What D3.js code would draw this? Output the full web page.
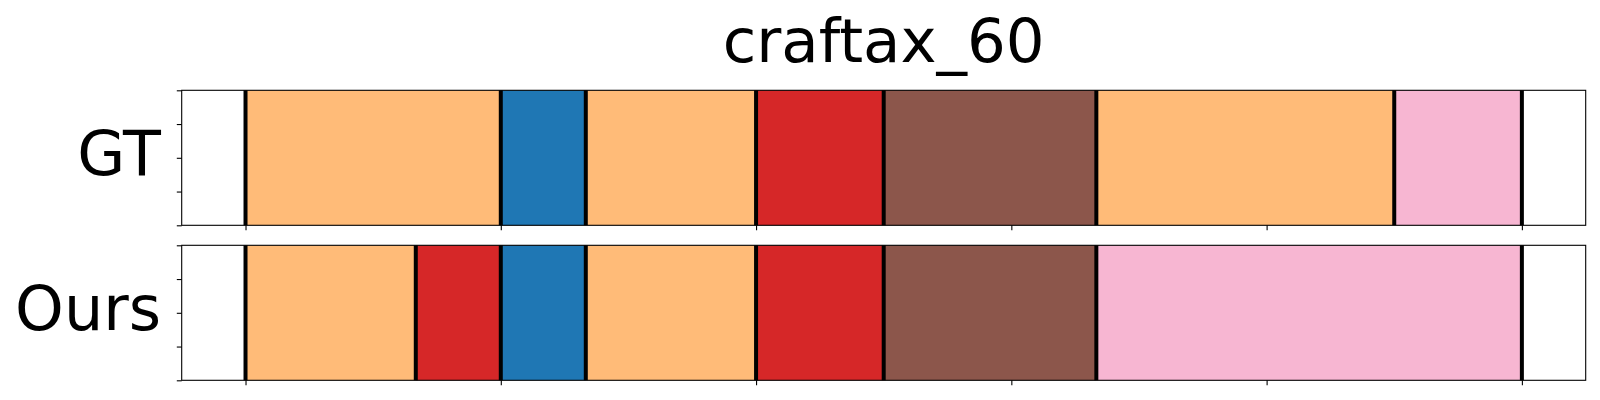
<!DOCTYPE html>
<html>
<head>
<meta charset="utf-8">
<script src="https://cdn.jsdelivr.net/npm/d3@7/dist/d3.min.js"></script>
<style>
  html, body { margin: 0; padding: 0; background: #fff; }
  svg { display: block; font-family: "DejaVu Sans", sans-serif; }
</style>
</head>
<body>
<svg id="chart" width="1600" height="400"></svg>
<script>
// ---- data ----
const title = "craftax_60";
const rowLabels = ["GT", "Ours"];
const gtBounds = [0, 10, 13.33, 20, 25, 33.33, 45, 50];
const gtClasses = ["c1", "c0", "c1", "c2", "c3", "c1", "c4"];
const oursBounds = [0, 6.67, 10, 13.33, 20, 25, 33.33, 50];
const oursClasses = ["c1", "c2", "c0", "c1", "c2", "c3", "c4"];
const classNames = ["c0", "c1", "c2", "c3", "c4"];
const classColors = ["#1f77b4", "#ffbb78", "#d62728", "#8c564b", "#f7b6d2"];
const xTicks = [0, 10, 20, 30, 40, 50];
const yTicks = [0, 0.25, 0.5, 0.75, 1];
const xDomain = [-2.5, 52.5];

const rows = [
  { label: rowLabels[0], bounds: gtBounds, classes: gtClasses },
  { label: rowLabels[1], bounds: oursBounds, classes: oursClasses }
];

// ---- layout ----
const svg = d3.select("#chart");
const left = 181.7, right = 1585.7;
const panelTops = [90.3, 245.3];
const panelH = 135;

const x = d3.scaleLinear().domain(xDomain).range([left, right]);
const color = d3.scaleOrdinal().domain(classNames).range(classColors);

svg.append("text")
  .attr("x", (left + right) / 2)
  .attr("y", 62)
  .attr("text-anchor", "middle")
  .attr("font-size", 61)
  .attr("fill", "#000")
  .text(title);

rows.forEach((row, i) => {
  const top = panelTops[i];
  const y = d3.scaleLinear().domain([0, 1]).range([top + panelH, top]);
  const g = svg.append("g");

  const segs = row.classes.map((c, k) => ({ c, s: row.bounds[k], e: row.bounds[k + 1] }));

  g.selectAll("rect.seg").data(segs).join("rect")
    .attr("class", "seg")
    .attr("x", d => x(d.s))
    .attr("width", d => x(d.e) - x(d.s))
    .attr("y", y(1))
    .attr("height", y(0) - y(1))
    .attr("fill", d => color(d.c));

  g.selectAll("line.bound").data(row.bounds).join("line")
    .attr("class", "bound")
    .attr("x1", d => x(d)).attr("x2", d => x(d))
    .attr("y1", y(1)).attr("y2", y(0))
    .attr("stroke", "#000")
    .attr("stroke-width", 4);

  // axes
  const xAxis = d3.axisBottom(x).tickValues(xTicks).tickFormat("").tickSize(4.9).tickSizeOuter(0);
  const yAxis = d3.axisLeft(y).tickValues(yTicks).tickFormat("").tickSize(4.9).tickSizeOuter(0);
  const gx = g.append("g").attr("transform", `translate(0,${top + panelH})`).call(xAxis);
  const gy = g.append("g").attr("transform", `translate(${left},0)`).call(yAxis);
  [gx, gy].forEach(a => {
    a.select(".domain").remove();
    a.selectAll(".tick line").attr("stroke", "#000").attr("stroke-width", 1.1);
  });

  // spines
  g.append("rect")
    .attr("x", left).attr("y", top)
    .attr("width", right - left).attr("height", panelH)
    .attr("fill", "none")
    .attr("stroke", "#000")
    .attr("stroke-width", 1.1);

  svg.append("text")
    .attr("x", 161)
    .attr("y", top + panelH / 2 + 17)
    .attr("text-anchor", "end")
    .attr("font-size", 62)
    .attr("fill", "#000")
    .text(row.label);
});
</script>
</body>
</html>
